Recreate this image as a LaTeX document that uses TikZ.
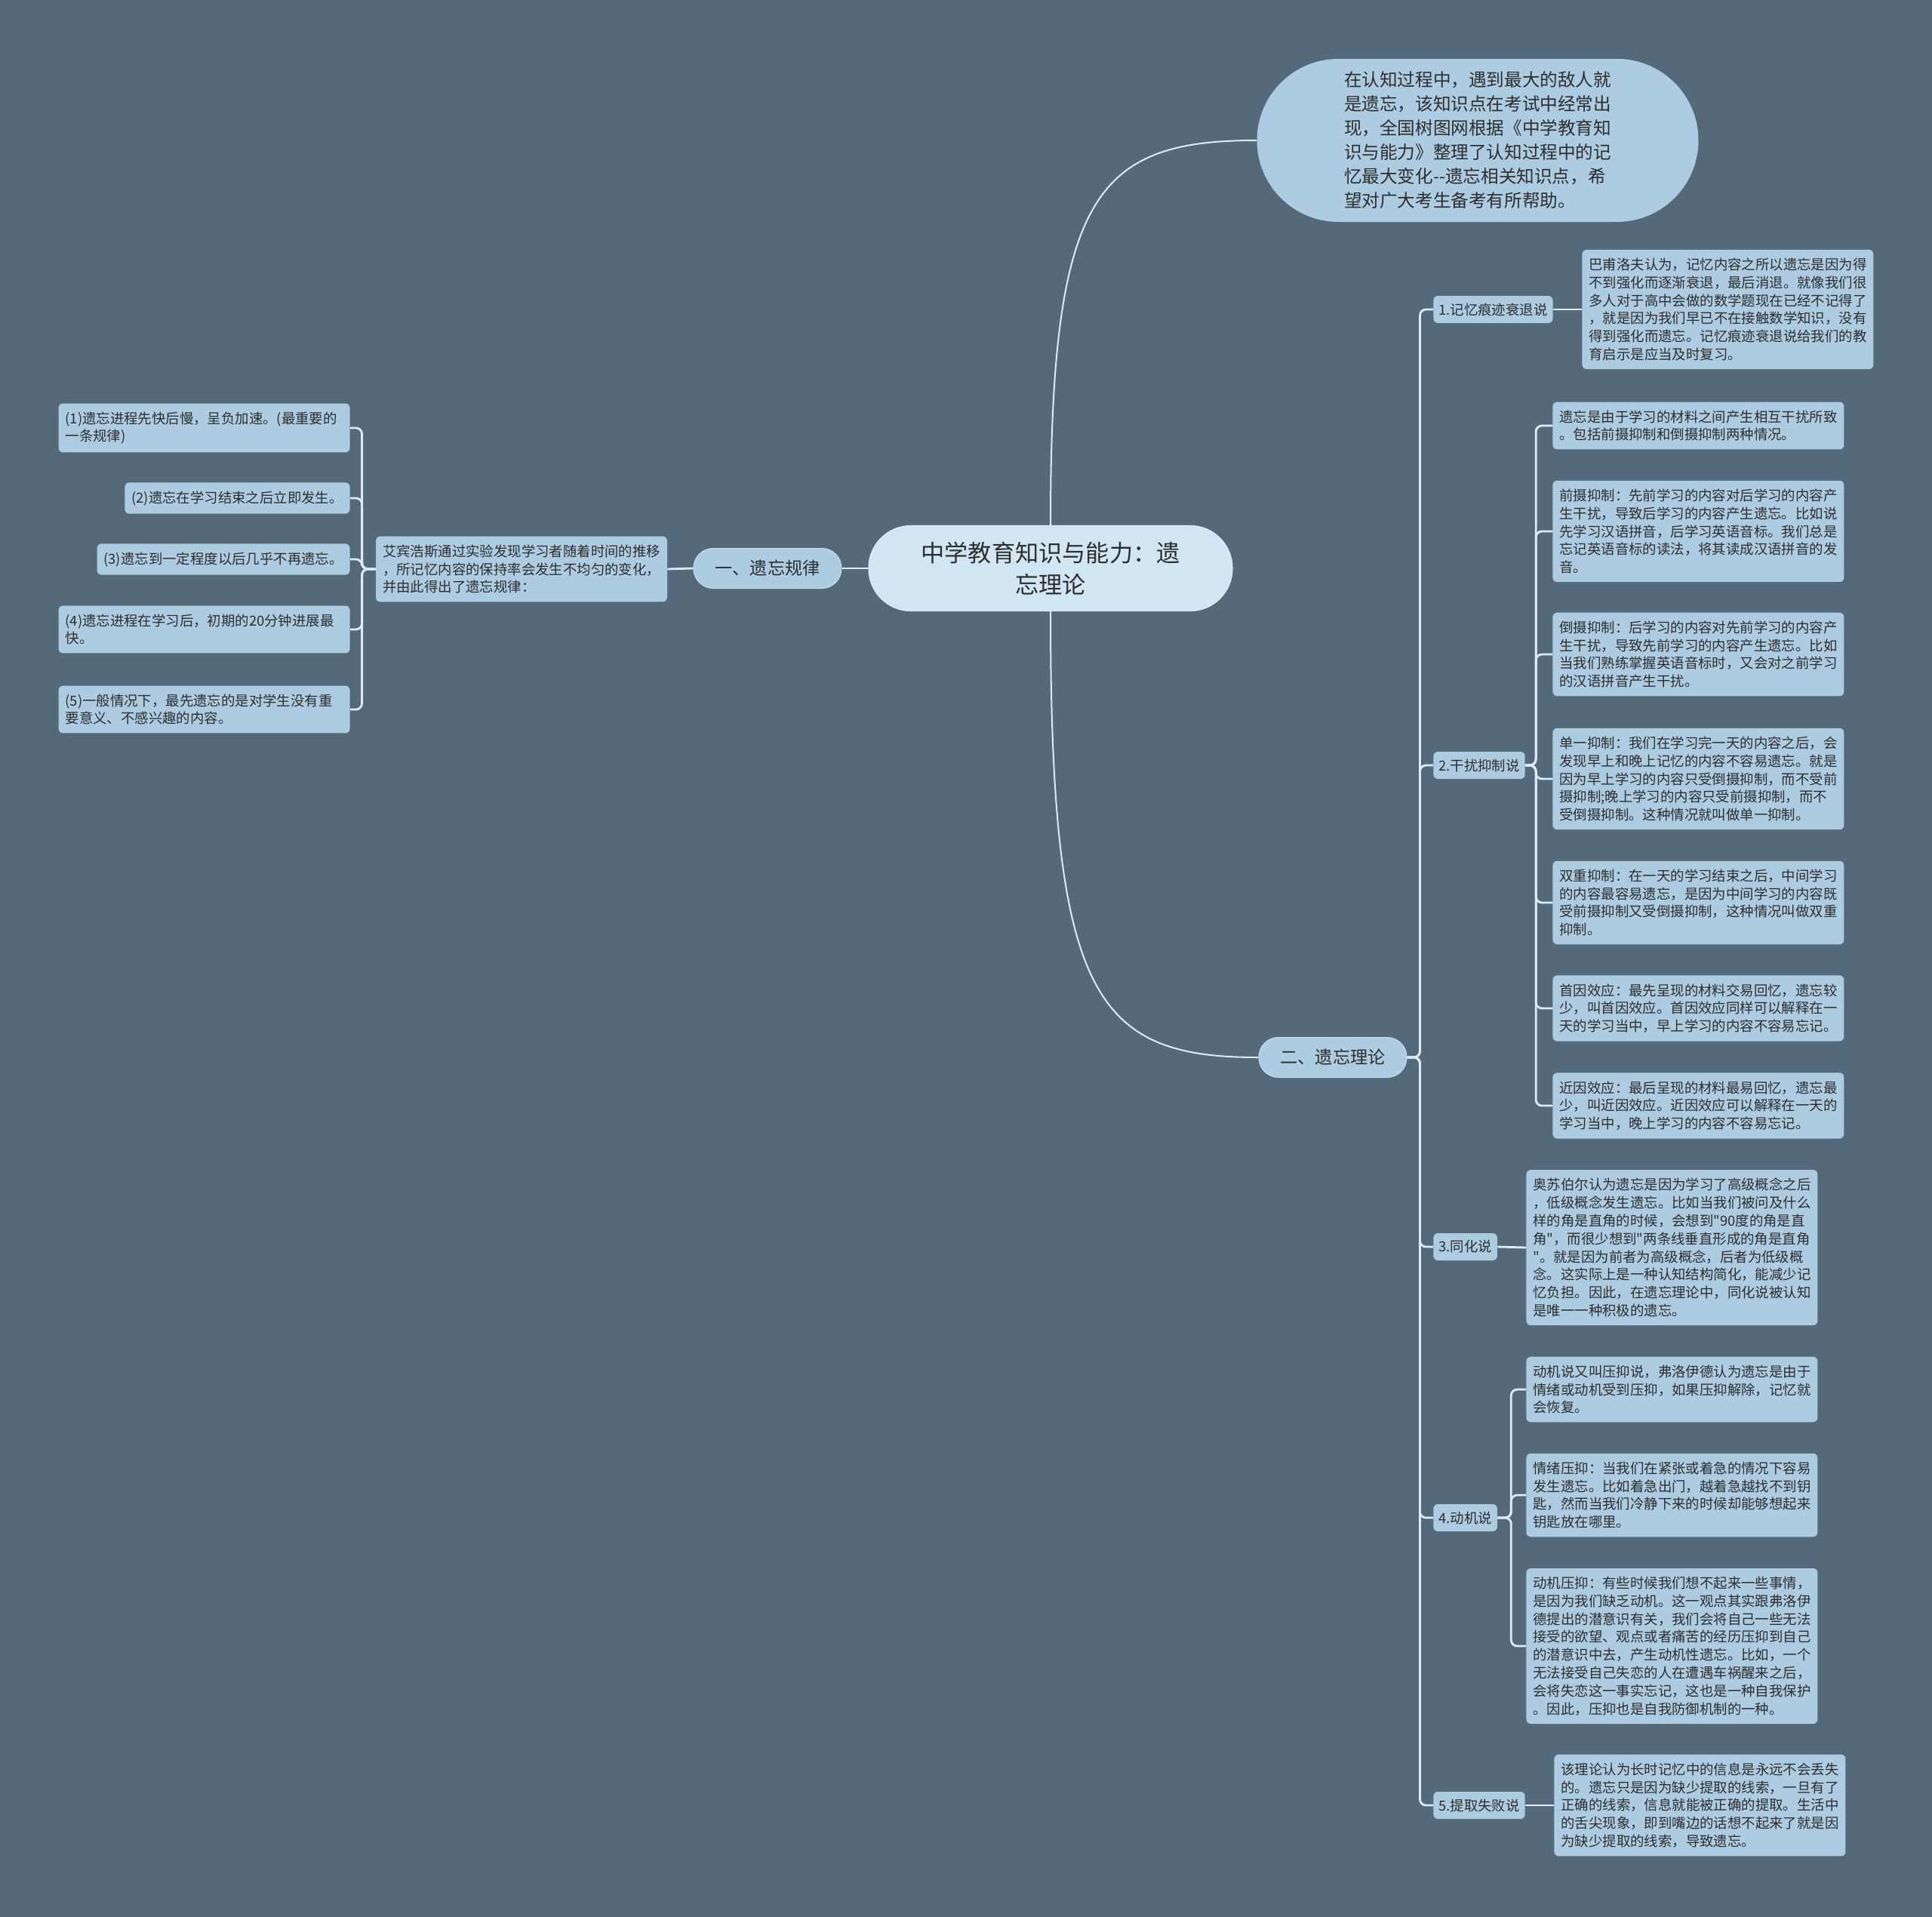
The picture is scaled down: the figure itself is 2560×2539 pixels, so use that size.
\documentclass[tikz,border=0pt]{standalone}
\usepackage{fontspec}
\newfontfamily\cjkfont{Noto Sans CJK SC}
\usepackage{tikz}
\usetikzlibrary{positioning}
\usepackage{xcolor}
\definecolor{bgslate}{HTML}{546A7A}
\definecolor{boxblue}{HTML}{ADCBE1}
\definecolor{rootblue}{HTML}{D0E6F3}
\definecolor{linkc}{HTML}{DCEBF5}
\definecolor{inkc}{HTML}{2E2E2E}
\tikzset{
  rootnode/.style = {fill=rootblue, draw=linkc, line width=0.6pt,
                     rounded corners=28pt, minimum width=241pt,
                     minimum height=56.5pt, align=center, text=inkc,
                     font=\cjkfont\fontsize{15.6}{21}\selectfont},
  bubble/.style   = {fill=boxblue, rounded corners=54pt, minimum width=292.5pt,
                     minimum height=108pt, align=left, text=inkc,
                     font=\cjkfont\fontsize{11.8}{16}\selectfont},
  topic/.style    = {fill=boxblue, draw=linkc!60!boxblue, line width=0.5pt,
                     rounded corners=13pt, minimum width=98pt,
                     minimum height=26.5pt, text=inkc,
                     font=\cjkfont\fontsize{11.6}{14}\selectfont},
  card/.style     = {fill=boxblue, rounded corners=3pt, inner xsep=4.5pt,
                     inner ysep=5.5pt, text=inkc,
                     font=\cjkfont\fontsize{9.2}{11.9}\selectfont},
  subtopic/.style = {card, inner xsep=3.5pt, inner ysep=0pt, minimum height=18pt},
  leaf/.style     = {card, text width=184pt, align=left},
  link/.style     = {draw=linkc, line width=1.4pt, rounded corners=4pt},
  mainlink/.style = {draw=linkc, line width=1pt},
}

\begin{document}
\begin{tikzpicture}[x=0.5pt, y=-0.5pt]
% ---- background ----
\useasboundingbox (0,0) rectangle (2560,2539);
\fill[bgslate] (-10,-10) rectangle (2570,2549);
% ---- centre ----
\node[rootnode] (root) at (1392,753) {中学教育知识与能力：遗\\忘理论};
\node[bubble, anchor=center] (intro) at (1958,186)
     {在认知过程中，遇到最大的敌人就\\是遗忘，该知识点在考试中经常出\\现，全国树图网根据《中学教育知\\识与能力》整理了认知过程中的记\\忆最大变化-{}-遗忘相关知识点，希\\望对广大考生备考有所帮助。};
\node[topic] (lawsec) at (1017,753) {一、遗忘规律};
\node[topic] (theory) at (1766,1401) {二、遗忘理论};
\draw[mainlink] (root.north) .. controls (1392,260) and (1450,186) .. (intro.west);
\draw[mainlink] (root.south) .. controls (1392,1320) and (1450,1401) .. (theory.west);
\draw[link] (root.west) -- (lawsec.east);
% ---- left: forgetting law ----
\node[leaf, anchor=center] (ebbing) at (691,754)
     {艾宾浩斯通过实验发现学习者随着时间的推移\\，所记忆内容的保持率会发生不均匀的变化，\\并由此得出了遗忘规律：};
\draw[link] (lawsec.west) -- (ebbing.east);
\node[leaf, anchor=east] (law1) at (464,567) {(1)遗忘进程先快后慢，呈负加速。(最重要的\\一条规律)};
\node[card, anchor=east] (law2) at (464,660) {(2)遗忘在学习结束之后立即发生。};
\node[card, anchor=east] (law3) at (464,741) {(3)遗忘到一定程度以后几乎不再遗忘。};
\node[leaf, anchor=east] (law4) at (464,834) {(4)遗忘进程在学习后，初期的20分钟进展最\\快。};
\node[leaf, anchor=east] (law5) at (464,940) {(5)一般情况下，最先遗忘的是对学生没有重\\要意义、不感兴趣的内容。};
\foreach \n in {law1,law2,law3,law4,law5}
  \draw[link] (ebbing.west) -- ++(-18,0) |- (\n.east);
% ---- right: theories ----
\node[subtopic, anchor=west] (decay)  at (1899,410)  {1.记忆痕迹衰退说};
\node[subtopic, anchor=west] (interf) at (1899,1014) {2.干扰抑制说};
\node[subtopic, anchor=west] (assim)  at (1899,1652) {3.同化说};
\node[subtopic, anchor=west] (motiv)  at (1899,2011) {4.动机说};
\node[subtopic, anchor=west] (retr)   at (1899,2392) {5.提取失败说};
\foreach \n in {decay,interf,assim,motiv,retr}
  \draw[link] (theory.east) -- ++(17,0) |- (\n.west);
% ---- 1 ----
\node[leaf, anchor=west] (decaytx) at (2096,410)
     {巴甫洛夫认为，记忆内容之所以遗忘是因为得\\不到强化而逐渐衰退，最后消退。就像我们很\\多人对于高中会做的数学题现在已经不记得了\\，就是因为我们早已不在接触数学知识，没有\\得到强化而遗忘。记忆痕迹衰退说给我们的教\\育启示是应当及时复习。};
\draw[link] (decay.east) -- (decaytx.west);
% ---- 2 ----
\node[leaf, anchor=west] (intf1) at (2057,564)
     {遗忘是由于学习的材料之间产生相互干扰所致\\。包括前摄抑制和倒摄抑制两种情况。};
\node[leaf, anchor=west] (intf2) at (2057,704)
     {前摄抑制：先前学习的内容对后学习的内容产\\生干扰，导致后学习的内容产生遗忘。比如说\\先学习汉语拼音，后学习英语音标。我们总是\\忘记英语音标的读法，将其读成汉语拼音的发\\音。};
\node[leaf, anchor=west] (intf3) at (2057,867)
     {倒摄抑制：后学习的内容对先前学习的内容产\\生干扰，导致先前学习的内容产生遗忘。比如\\当我们熟练掌握英语音标时，又会对之前学习\\的汉语拼音产生干扰。};
\node[leaf, anchor=west] (intf4) at (2057,1032)
     {单一抑制：我们在学习完一天的内容之后，会\\发现早上和晚上记忆的内容不容易遗忘。就是\\因为早上学习的内容只受倒摄抑制，而不受前\\摄抑制;晚上学习的内容只受前摄抑制，而不\\受倒摄抑制。这种情况就叫做单一抑制。};
\node[leaf, anchor=west] (intf5) at (2057,1196)
     {双重抑制：在一天的学习结束之后，中间学习\\的内容最容易遗忘，是因为中间学习的内容既\\受前摄抑制又受倒摄抑制，这种情况叫做双重\\抑制。};
\node[leaf, anchor=west] (intf6) at (2057,1336)
     {首因效应：最先呈现的材料交易回忆，遗忘较\\少，叫首因效应。首因效应同样可以解释在一\\天的学习当中，早上学习的内容不容易忘记。};
\node[leaf, anchor=west] (intf7) at (2057,1465)
     {近因效应：最后呈现的材料最易回忆，遗忘最\\少，叫近因效应。近因效应可以解释在一天的\\学习当中，晚上学习的内容不容易忘记。};
\foreach \n in {intf1,intf2,intf3,intf4,intf5,intf6,intf7}
  \draw[link] (interf.east) -- ++(14,0) |- (\n.west);
% ---- 3 ----
\node[leaf, anchor=west] (assimtx) at (2022,1653)
     {奥苏伯尔认为遗忘是因为学习了高级概念之后\\，低级概念发生遗忘。比如当我们被问及什么\\样的角是直角的时候，会想到"90度的角是直\\角"，而很少想到"两条线垂直形成的角是直角\\"。就是因为前者为高级概念，后者为低级概\\念。这实际上是一种认知结构简化，能减少记\\忆负担。因此，在遗忘理论中，同化说被认知\\是唯一一种积极的遗忘。};
\draw[link] (assim.east) -- (assimtx.west);
% ---- 4 ----
\node[leaf, anchor=west] (motv1) at (2022,1841)
     {动机说又叫压抑说，弗洛伊德认为遗忘是由于\\情绪或动机受到压抑，如果压抑解除，记忆就\\会恢复。};
\node[leaf, anchor=west] (motv2) at (2022,1981)
     {情绪压抑：当我们在紧张或着急的情况下容易\\发生遗忘。比如着急出门，越着急越找不到钥\\匙，然而当我们冷静下来的时候却能够想起来\\钥匙放在哪里。};
\node[leaf, anchor=west] (motv3) at (2022,2181)
     {动机压抑：有些时候我们想不起来一些事情，\\是因为我们缺乏动机。这一观点其实跟弗洛伊\\德提出的潜意识有关，我们会将自己一些无法\\接受的欲望、观点或者痛苦的经历压抑到自己\\的潜意识中去，产生动机性遗忘。比如，一个\\无法接受自己失恋的人在遭遇车祸醒来之后，\\会将失恋这一事实忘记，这也是一种自我保护\\。因此，压抑也是自我防御机制的一种。};
\foreach \n in {motv1,motv2,motv3}
  \draw[link] (motiv.east) -- ++(18,0) |- (\n.west);
% ---- 5 ----
\node[leaf, anchor=west] (retrtx) at (2059,2392)
     {该理论认为长时记忆中的信息是永远不会丢失\\的。遗忘只是因为缺少提取的线索，一旦有了\\正确的线索，信息就能被正确的提取。生活中\\的舌尖现象，即到嘴边的话想不起来了就是因\\为缺少提取的线索，导致遗忘。};
\draw[link] (retr.east) -- (retrtx.west);
\end{tikzpicture}
\end{document}
